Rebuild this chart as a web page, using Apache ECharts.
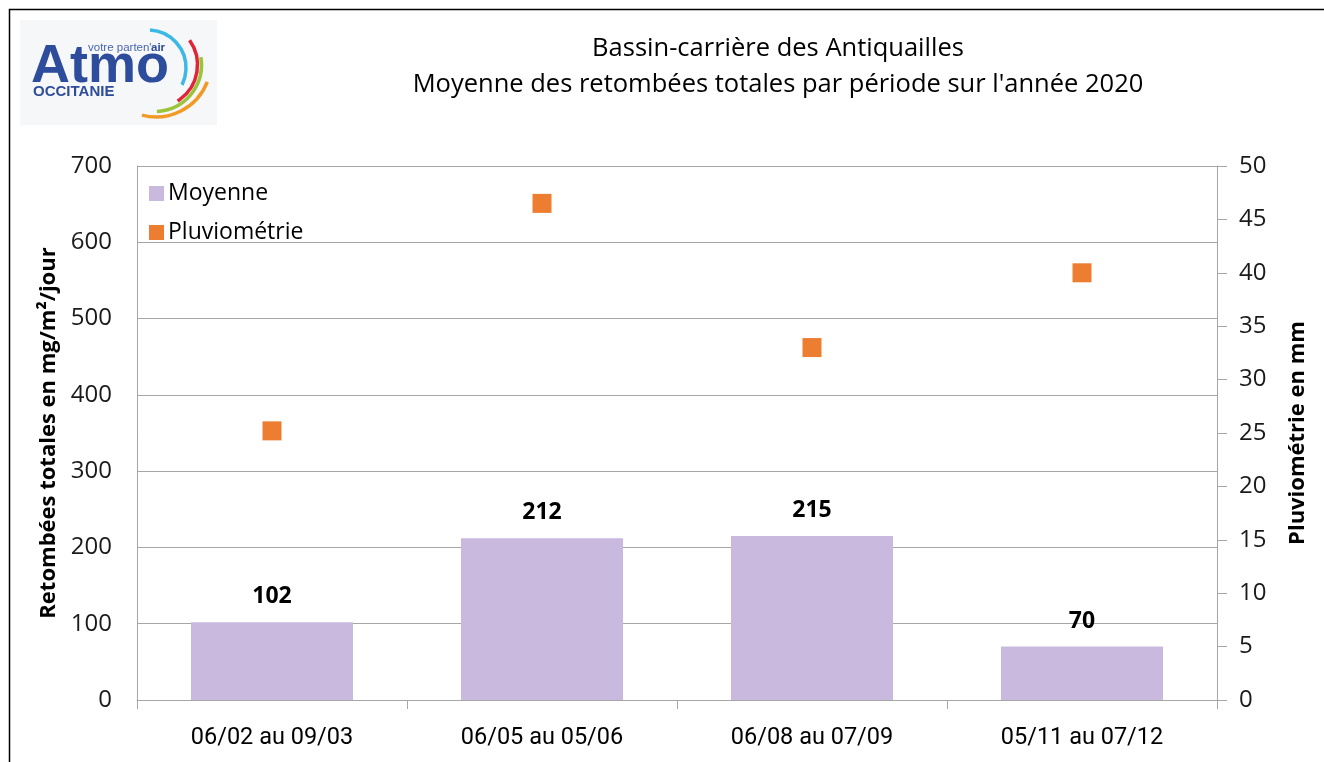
<!DOCTYPE html>
<html lang="fr">
<head>
    <meta charset="UTF-8"/>
    <title>Retombées totales 2020</title>
    <script src="https://cdn.jsdelivr.net/npm/echarts@6/dist/echarts.min.js"></script>
    <style>
        html, body { margin: 0; padding: 0; background: #fff; }
        #main { width: 1324px; height: 762px; }
    </style>
</head>
<body>
<div id="main"></div>

<script type="text/javascript">
    // données
    var periodes = ['06/02 au 09/03', '06/05 au 05/06', '06/08 au 07/09', '05/11 au 07/12'];
    var moyenne = [102, 212, 215, 70];
    var pluviometrie = [25.2, 46.5, 33.0, 40.0];

    var titre1 = 'Bassin-carrière des Antiquailles';
    var titre2 = "Moyenne des retombées totales par période sur l'année 2020";

    var myChart = echarts.init(document.getElementById('main'));

    var option = {
        backgroundColor: '#ffffff',
        animation: false,
        textStyle: { fontFamily: 'Open Sans' },
        title: {
            text: titre1 + '\n' + titre2,
            left: 773,
            top: 26,
            textAlign: 'center',
            textStyle: {
                fontFamily: 'Open Sans',
                fontWeight: 'normal',
                fontSize: 25.5,
                color: '#000',
                lineHeight: 36
            }
        },
        legend: {
            orient: 'vertical',
            left: 144,
            top: 177,
            itemWidth: 15,
            itemHeight: 15,
            itemGap: 16,
            textStyle: { fontFamily: 'Open Sans', fontSize: 23, color: '#000', padding: [0, 0, 0, -1] },
            data: [
                { name: 'Moyenne', icon: 'rect' },
                { name: 'Pluviométrie', icon: 'rect' }
            ]
        },
        grid: { left: 137, right: 107, top: 166, bottom: 62 },
        xAxis: {
            type: 'category',
            data: periodes,
            axisLine: { lineStyle: { color: '#A6A6A6', width: 1 } },
            axisTick: { show: true, length: 9, lineStyle: { color: '#A6A6A6' } },
            axisLabel: {
                margin: 26,
                fontFamily: 'Roboto',
                fontSize: 23.5,
                color: '#000'
            }
        },
        yAxis: [
            {
                type: 'value',
                min: 0, max: 700, interval: 100,
                name: 'Retombées totales en mg/m²/jour',
                nameLocation: 'middle',
                nameRotate: 90,
                nameGap: 73,
                nameTextStyle: { fontFamily: 'Open Sans', fontWeight: 'bold', fontSize: 22, color: '#000' },
                axisLine: { show: true, lineStyle: { color: '#A6A6A6' } },
                axisTick: { show: false },
                axisLabel: { margin: 25, fontFamily: 'Open Sans', fontSize: 24, color: '#1a1a1a' },
                splitLine: { show: true, lineStyle: { color: '#A6A6A6', width: 1 } }
            },
            {
                type: 'value',
                position: 'right',
                min: 0, max: 50, interval: 5,
                name: 'Pluviométrie en mm',
                nameLocation: 'middle',
                nameRotate: 90,
                nameGap: 70,
                nameTextStyle: { fontFamily: 'Open Sans', fontWeight: 'bold', fontSize: 22, color: '#000' },
                axisLine: { show: true, lineStyle: { color: '#A6A6A6' } },
                axisTick: { show: true, inside: false, length: 10, lineStyle: { color: '#A6A6A6' } },
                axisLabel: { margin: 22, fontFamily: 'Open Sans', fontSize: 24, color: '#1a1a1a' },
                splitLine: { show: false }
            }
        ],
        series: [
            {
                name: 'Moyenne',
                type: 'bar',
                yAxisIndex: 0,
                barWidth: '60%',
                data: moyenne,
                itemStyle: { color: '#C9B9DF' },
                label: {
                    show: true,
                    position: 'top',
                    distance: 14,
                    fontFamily: 'Open Sans',
                    fontWeight: 'bold',
                    fontSize: 23,
                    color: '#000'
                }
            },
            {
                name: 'Pluviométrie',
                type: 'scatter',
                yAxisIndex: 1,
                symbol: 'rect',
                symbolSize: 19,
                data: pluviometrie,
                itemStyle: { color: '#ED7D31', opacity: 1 }
            }
        ],
        graphic: [
            // cadre
            {
                type: 'rect',
                shape: { x: 9.5, y: 9.5, width: 1400, height: 800 },
                style: { fill: 'none', stroke: '#000', lineWidth: 1.5 },
                silent: true, z: 0
            },
            // logo Atmo Occitanie
            {
                type: 'group',
                left: 20, top: 20,
                children: [
                    { type: 'rect', shape: { x: 0, y: 0, width: 197, height: 105 }, style: { fill: '#F6F7F9' } },
                    { type: 'text', x: 68, y: 22, style: { text: 'votre parten\'', font: '11.5px "Liberation Sans"', fill: '#4A66B0' } },
                    { type: 'text', x: 131, y: 22, style: { text: 'air', font: 'bold 11.5px "Liberation Sans"', fill: '#2E4C9C' } },
                    { type: 'text', x: 11, y: 20, style: { text: 'Atmo', font: 'bold 54px "Liberation Sans"', fill: '#2E4C9C' } },
                    { type: 'text', x: 13, y: 64, style: { text: 'OCCITANIE', font: 'bold 15px "Liberation Sans"', fill: '#2E4C9C' } },
                    { type: 'arc', shape: { cx: 128, cy: 48, r: 38, startAngle: -1.52, endAngle: 0.46 }, style: { stroke: '#3BB8E6', lineWidth: 3.5, fill: 'none' } },
                    { type: 'arc', shape: { cx: 135, cy: 45, r: 42.5, startAngle: -0.62, endAngle: 1.01 }, style: { stroke: '#E0243A', lineWidth: 3.5, fill: 'none' } },
                    { type: 'arc', shape: { cx: 135, cy: 45, r: 46.5, startAngle: -0.17, endAngle: 1.53 }, style: { stroke: '#9CC43A', lineWidth: 3.5, fill: 'none' } },
                    { type: 'arc', shape: { cx: 136, cy: 42, r: 55, startAngle: 0.37, endAngle: 1.83 }, style: { stroke: '#F29A26', lineWidth: 3.5, fill: 'none' } }
                ]
            }
        ]
    };

    myChart.setOption(option);
</script>
</body>
</html>
